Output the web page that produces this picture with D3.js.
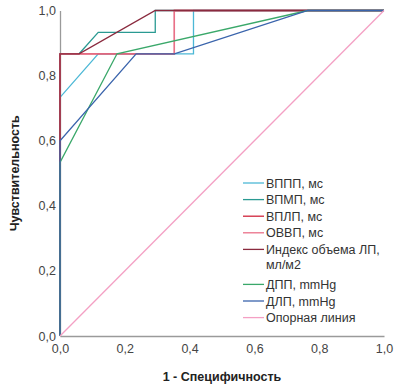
<!DOCTYPE html>
<html>
<head>
<meta charset="utf-8">
<script src="https://cdn.jsdelivr.net/npm/d3@7"></script>
<style>
  body { margin: 0; background: #fff; }
  text { font-family: "Liberation Sans", Arial, sans-serif; }
</style>
</head>
<body>
<script>
// ROC curves: 15 positives, 17 negatives
let series = ["ВППП, мс", "ВПМП, мс", "ВПЛП, мс", "ОВВП, мс", "Индекс объема ЛП, мл/м2", "ДПП, mmHg", "ДЛП, mmHg", "Опорная линия"];
let colors = ["#4cb8d6", "#2a9a92", "#d0243c", "#ea7088", "#8a2a3e", "#3aa86a", "#3a64ac", "#f4a0c4"];

// [1 - specificity, sensitivity]
let vppp = [[0, 0], [0, 0.733], [0.118, 0.867], [0.412, 0.867], [0.412, 1], [1, 1]];
let vpmp = [[0, 0], [0, 0.867], [0.059, 0.867], [0.118, 0.933], [0.294, 0.933], [0.294, 1], [1, 1]];
let vplp = [[0, 0], [0, 0.867], [0.353, 0.867], [0.353, 1], [1, 1]];
let ovvp = [[0, 0], [0, 0.867], [0.353, 0.867], [0.353, 1], [1, 1]];
let indexLp = [[0, 0], [0, 0.867], [0.059, 0.867], [0.294, 1], [1, 1]];
let dpp = [[0, 0], [0, 0.533], [0.176, 0.867], [0.765, 1], [1, 1]];
let dlp = [[0, 0], [0, 0.6], [0.235, 0.867], [0.353, 0.867], [0.765, 1], [1, 1]];
let reference = [[0, 0], [1, 1]];
let curves = [vppp, vpmp, vplp, ovvp, indexLp, dpp, dlp, reference];

let ticks = [0, 0.2, 0.4, 0.6, 0.8, 1.0];

let width = 408, height = 390;
let margin = {left: 60, right: 24, top: 10.5, bottom: 54};

let x = d3.scaleLinear().domain([0, 1]).range([margin.left, width - margin.right]);
let y = d3.scaleLinear().domain([0, 1]).range([height - margin.bottom, margin.top]);

let svg = d3.select("body").append("svg").attr("width", width).attr("height", height);

let fmt = d => d3.format(".1f")(d).replace(".", ",");

// axes (labels only, no tick marks)
let xAxis = svg.append("g")
    .attr("transform", "translate(0," + y(0) + ")")
    .call(d3.axisBottom(x).tickValues(ticks).tickFormat(fmt).tickSize(0).tickPadding(8));
let yAxis = svg.append("g")
    .attr("transform", "translate(" + x(0) + ",0)")
    .call(d3.axisLeft(y).tickValues(ticks).tickFormat(fmt).tickSize(0).tickPadding(4));
[xAxis, yAxis].forEach(a => {
  a.select(".domain").attr("stroke", "#9a9a9a").attr("stroke-width", 1.3);
  a.selectAll("text").attr("font-size", 12.5).attr("fill", "#444")
    .attr("font-family", "'Liberation Sans', Arial, sans-serif");
});

let line = d3.line().x(d => x(d[0])).y(d => y(d[1]));

svg.append("g").selectAll("path")
  .data(curves)
  .join("path")
  .attr("d", d => line(d))
  .attr("fill", "none")
  .attr("stroke", (d, i) => colors[i])
  .attr("stroke-width", 1.3);

// axis titles
svg.append("text")
  .attr("x", (x(0) + x(1)) / 2).attr("y", 381)
  .attr("text-anchor", "middle")
  .attr("font-size", 12.5).attr("font-weight", "bold").attr("fill", "#222")
  .text("1 - Специфичность");

svg.append("text")
  .attr("transform", "translate(19," + (y(0.5)) + ") rotate(-90)")
  .attr("text-anchor", "middle")
  .attr("font-size", 12.5).attr("font-weight", "bold").attr("fill", "#222")
  .text("Чувствительность");

// legend
let legend = svg.append("g").attr("transform", "translate(243,183)");
let rowY = 0;
series.forEach((s, i) => {
  let lines = s === "Индекс объема ЛП, мл/м2" ? ["Индекс объема ЛП,", "мл/м2"] : [s];
  legend.append("line")
    .attr("x1", 0).attr("x2", 21).attr("y1", rowY).attr("y2", rowY)
    .attr("stroke", colors[i]).attr("stroke-width", 1.3);
  lines.forEach((t, k) => {
    legend.append("text")
      .attr("x", 23).attr("y", rowY + k * 15 + 4.5)
      .attr("font-size", 12.5).attr("fill", "#333")
      .text(t);
  });
  rowY += lines.length === 2 ? 35 : 16.6;
});
</script>
</body>
</html>
